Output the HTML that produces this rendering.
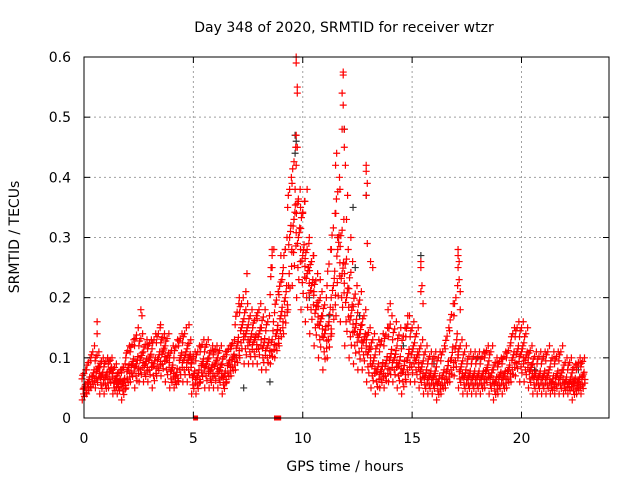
<!DOCTYPE html>
<html><head><meta charset="utf-8"><style>
body{margin:0;background:#fff;}
svg text{font-family:"DejaVu Sans","Liberation Sans",sans-serif;font-size:14px;fill:#000;}
</style></head><body>
<svg id="chart" width="640" height="480" viewBox="0 0 640 480" xmlns="http://www.w3.org/2000/svg">
<rect width="640" height="480" fill="#fff"/>
<g id="grid"></g>
<g id="marks"></g>
<rect x="84" y="57" width="525" height="361" fill="none" stroke="#000" stroke-width="1"/>
<g id="axes"></g>
<text x="344" y="32" text-anchor="middle">Day 348 of 2020, SRMTID for receiver wtzr</text>
<text x="345" y="471" text-anchor="middle">GPS time / hours</text>
<text transform="translate(19,237) rotate(-90)" text-anchor="middle">SRMTID / TECUs</text>
</svg>
<script>
const xTicks=[0,5,10,15,20];
const yTicks=[0,0.1,0.2,0.3,0.4,0.5,0.6];
const yTickLabels=["0","0.1","0.2","0.3","0.4","0.5","0.6"];
const bandT0=0, bandStep=0.2;
const redMid=[0.05,0.06,0.07,0.08,0.07,0.07,0.08,0.06,0.06,0.06,0.08,0.09,0.09,0.1,0.09,0.1,0.09,0.1,0.11,0.1,0.08,0.07,0.1,0.1,0.1,0.07,0.07,0.09,0.09,0.08,0.09,0.08,0.07,0.09,0.1,0.12,0.15,0.14,0.13,0.13,0.14,0.12,0.12,0.13,0.14,0.17,0.2,0.3,0.33,0.3,0.27,0.24,0.22,0.18,0.16,0.14,0.16,0.22,0.28,0.24,0.2,0.17,0.15,0.14,0.13,0.11,0.09,0.08,0.08,0.09,0.1,0.1,0.09,0.08,0.1,0.11,0.1,0.08,0.07,0.07,0.07,0.06,0.07,0.08,0.1,0.12,0.08,0.07,0.07,0.07,0.07,0.07,0.08,0.07,0.06,0.07,0.07,0.08,0.1,0.11,0.11,0.1,0.08,0.07,0.07,0.07,0.07,0.06,0.07,0.07,0.06,0.06,0.06,0.06,0.07];
const redHigh=[0.08,0.1,0.12,0.11,0.1,0.1,0.1,0.09,0.08,0.09,0.12,0.13,0.15,0.14,0.13,0.13,0.14,0.15,0.14,0.14,0.12,0.13,0.14,0.15,0.13,0.11,0.12,0.13,0.13,0.12,0.12,0.12,0.11,0.12,0.13,0.19,0.2,0.19,0.18,0.17,0.19,0.18,0.17,0.28,0.21,0.24,0.3,0.4,0.45,0.38,0.36,0.29,0.27,0.24,0.21,0.2,0.28,0.34,0.4,0.33,0.28,0.26,0.22,0.21,0.18,0.15,0.14,0.13,0.14,0.15,0.17,0.16,0.15,0.15,0.17,0.16,0.15,0.13,0.12,0.11,0.11,0.11,0.12,0.15,0.19,0.22,0.13,0.12,0.11,0.11,0.11,0.11,0.12,0.12,0.1,0.1,0.11,0.12,0.15,0.16,0.16,0.15,0.12,0.11,0.11,0.11,0.12,0.11,0.11,0.12,0.1,0.1,0.09,0.1,0.1];
const redLow=[0.03,0.04,0.05,0.05,0.04,0.04,0.05,0.04,0.04,0.03,0.05,0.06,0.05,0.06,0.06,0.06,0.05,0.07,0.07,0.06,0.05,0.05,0.06,0.06,0.06,0.04,0.04,0.06,0.05,0.05,0.05,0.05,0.04,0.06,0.07,0.08,0.1,0.09,0.09,0.09,0.09,0.08,0.08,0.09,0.1,0.12,0.14,0.18,0.22,0.2,0.18,0.16,0.14,0.12,0.1,0.08,0.1,0.14,0.17,0.16,0.12,0.1,0.09,0.08,0.08,0.06,0.05,0.04,0.05,0.05,0.06,0.06,0.05,0.04,0.06,0.06,0.06,0.05,0.04,0.04,0.04,0.03,0.04,0.05,0.06,0.07,0.05,0.04,0.04,0.04,0.04,0.04,0.05,0.04,0.03,0.04,0.04,0.05,0.06,0.07,0.06,0.06,0.05,0.04,0.04,0.04,0.04,0.04,0.04,0.04,0.04,0.04,0.03,0.04,0.04];
const spikeT=[9.7,9.7,9.75,9.75,9.7,9.75,9.7,9.65,9.8,9.9,10,10.1,9.6,9.5,8.6,8.6,8.55,9,9.05,7.4,7.45,7.1,2.6,2.65,0.6,0.6,3.5,4.8,11.5,11.55,11.7,11.8,11.9,11.85,11.8,11.85,11.85,11.9,11.95,12,12.05,12.9,12.9,12.95,12.9,12.95,13.1,13.2,10.5,10.4,10.8,15.4,15.4,15.45,15.4,15.5,17.1,17.1,17.15,17.1,17.15,17.2,17.2,14,13.9,14.8,11.3,11.6,12.2,10.2,10.3,9.35,9.2];
const spikeV=[0.6,0.59,0.55,0.54,0.47,0.45,0.42,0.38,0.36,0.35,0.34,0.36,0.33,0.28,0.28,0.27,0.25,0.27,0.23,0.21,0.24,0.2,0.18,0.17,0.16,0.14,0.155,0.155,0.42,0.44,0.38,0.48,0.48,0.52,0.54,0.57,0.575,0.45,0.42,0.33,0.37,0.42,0.41,0.39,0.37,0.29,0.26,0.25,0.27,0.26,0.23,0.26,0.25,0.22,0.21,0.19,0.28,0.27,0.26,0.25,0.23,0.21,0.18,0.19,0.18,0.17,0.2,0.3,0.3,0.38,0.3,0.22,0.28];
const blackT=[9.65,9.7,9.65,11.9,12.9,11.6,12.4,0.2,7.3,6.9,8.5,15.4,14.6,16,18,20.6,22.6,10.3,11.2,12.6,12.3];
const blackV=[0.47,0.46,0.44,0.48,0.37,0.3,0.25,0.05,0.05,0.1,0.06,0.27,0.12,0.09,0.1,0.08,0.08,0.2,0.17,0.17,0.35];
const gapT=[5.1,8.8,8.9];

const NS="http://www.w3.org/2000/svg";
const X0=84,X1=609,Y0=418,Y1=57,XMAX=24,YMAX=0.6;
function xs(t){return X0+(t/XMAX)*(X1-X0);}
function ys(v){return Y0-(v/YMAX)*(Y0-Y1);}
function mk(tag,attrs,parent){const e=document.createElementNS(NS,tag);for(const k in attrs)e.setAttribute(k,attrs[k]);parent.appendChild(e);return e;}
const grid=document.getElementById('grid'),axes=document.getElementById('axes'),marks=document.getElementById('marks');
xTicks.forEach(t=>{
  const x=xs(t);
  if(t>0){const g=mk('line',{x1:x,x2:x,y1:Y0,y2:Y1,stroke:'#a0a0a0','stroke-dasharray':'2,3'},grid);
  
  }
  mk('line',{x1:x,x2:x,y1:Y0,y2:Y0-6,stroke:'#000'},axes);
  mk('line',{x1:x,x2:x,y1:Y1,y2:Y1+6,stroke:'#000'},axes);
  const l=mk('text',{x:x,y:443,'text-anchor':'middle'},axes);l.textContent=t;
  
  
});
yTicks.forEach((v,i)=>{
  const y=ys(v);
  if(v>0&&v<YMAX){const g=mk('line',{x1:X0,x2:X1,y1:y,y2:y,stroke:'#a0a0a0','stroke-dasharray':'2,3'},grid);
  
  }
  mk('line',{x1:X0,x2:X0+6,y1:y,y2:y,stroke:'#000'},axes);
  mk('line',{x1:X1,x2:X1-6,y1:y,y2:y,stroke:'#000'},axes);
  const l=mk('text',{x:71,y:y+5,'text-anchor':'end'},axes);l.textContent=yTickLabels[i];
  
  
});
function cross(t,v,col,name){
  const x=xs(t),y=ys(v);
  const p=mk('path',{d:`M${x-3.5},${y}h7M${x},${y-3.5}v7`,stroke:col,'stroke-width':1.2,fill:'none'},marks);
  
  
}
blackT.forEach((t,i)=>cross(t,blackV[i],'#333','black-point'));
const spreadDt=[-0.08,0.02,0.09,-0.04,0.06,-0.09,0.0,0.08,-0.02,0.04,-0.06,0.1];
const spreadFr=[0.0,0.15,0.3,0.45,0.6,0.75,0.9,1.0,0.25,0.55,0.85,0.4];
redMid.forEach((v,i)=>{
  const t=bandT0+i*bandStep, lo=redLow[i], hi=redHigh[i];
  cross(t,v,'#f00','red-point');
  spreadDt.forEach((dt,k)=>{
    const f=spreadFr[k];
    const val=f<0.5? lo+(v-lo)*(f/0.5) : v+(hi-v)*((f-0.5)/0.5);
    cross(t+dt,val,'#f00','red-point');
  });
});
spikeT.forEach((t,i)=>cross(t,spikeV[i],'#f00','red-point'));
gapT.forEach(t=>{
  const r=mk('rect',{x:xs(t)-2.5,y:Y0-2.5,width:5,height:5,fill:'#f00'},marks);
  
  
});
</script>
</body></html>
